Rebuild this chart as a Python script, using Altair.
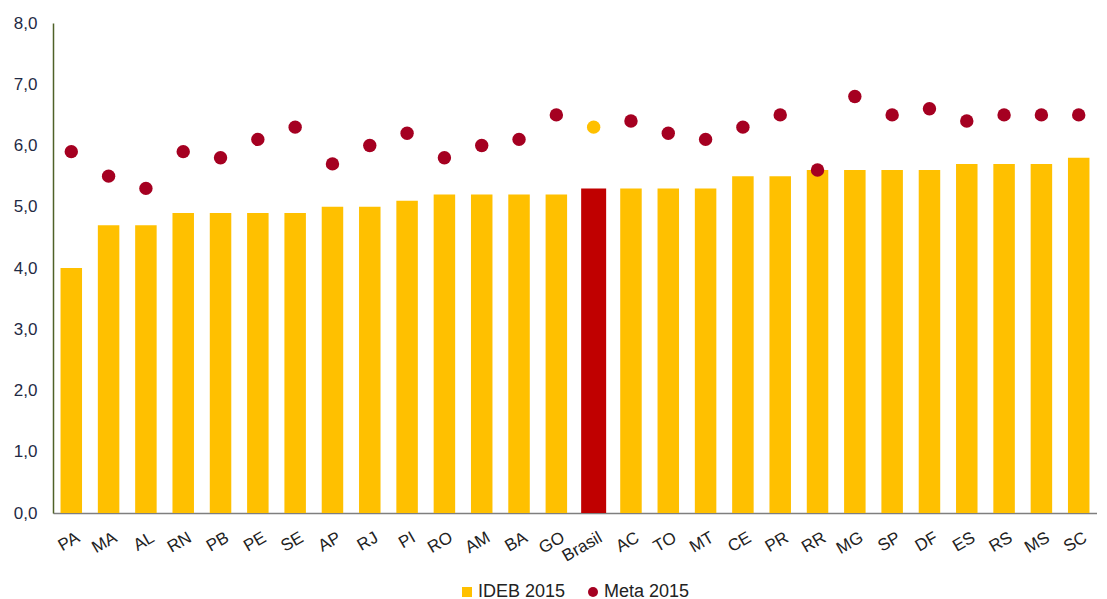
import altair as alt
import pandas as pd

estados = ["PA", "MA", "AL", "RN", "PB", "PE", "SE", "AP", "RJ", "PI", "RO", "AM", "BA", "GO",
           "Brasil", "AC", "TO", "MT", "CE", "PR", "RR", "MG", "SP", "DF", "ES", "RS", "MS", "SC"]
ideb_2015 = [4.0, 4.7, 4.7, 4.9, 4.9, 4.9, 4.9, 5.0, 5.0, 5.1, 5.2, 5.2, 5.2, 5.2,
             5.3, 5.3, 5.3, 5.3, 5.5, 5.5, 5.6, 5.6, 5.6, 5.6, 5.7, 5.7, 5.7, 5.8]
meta_2015 = [5.9, 5.5, 5.3, 5.9, 5.8, 6.1, 6.3, 5.7, 6.0, 6.2, 5.8, 6.0, 6.1, 6.5,
             6.3, 6.4, 6.2, 6.1, 6.3, 6.5, 5.6, 6.8, 6.5, 6.6, 6.4, 6.5, 6.5, 6.5]

series = ["IDEB 2015", "Meta 2015", "Brasil IDEB", "Brasil Meta"]
cores = ["#FFC000", "#A50021", "#C00000", "#FFC000"]
formas = ["square", "circle", "square", "circle"]

bars = pd.DataFrame({
    "estado": estados,
    "valor": ideb_2015,
    "serie": ["Brasil IDEB" if e == "Brasil" else "IDEB 2015" for e in estados],
})
pts = pd.DataFrame({
    "estado": estados,
    "valor": meta_2015,
    "serie": ["Brasil Meta" if e == "Brasil" else "Meta 2015" for e in estados],
})

FONT = "Liberation Sans"

x_enc = alt.X("estado:N", sort=estados, title=None,
              scale=alt.Scale(paddingInner=0.42, paddingOuter=0.2),
              axis=alt.Axis(labelAngle=330, labelFontSize=17, labelColor="#222222",
                            labelFont=FONT, ticks=False, domainColor="#7f7f7f",
                            domainWidth=1.5, labelPadding=16, labelAlign="right",
                            labelBaseline="top", labelOffset=3))
y_enc = alt.Y("valor:Q", title=None,
              scale=alt.Scale(domain=[0, 8], nice=False),
              axis=alt.Axis(values=[0, 1, 2, 3, 4, 5, 6, 7, 8], grid=False, ticks=False,
                            labelExpr="replace(format(datum.value, '.1f'), '.', ',')",
                            labelFontSize=17, labelColor="#1f2a44", labelFont=FONT,
                            labelPadding=16, domainColor="#4F6228", domainWidth=1.5))

leg = alt.Legend(values=["IDEB 2015", "Meta 2015"], title=None,
                 orient="none", legendX=405, legendY=560,
                 direction="horizontal",
                 labelFontSize=18, labelFont=FONT, labelColor="#222222",
                 symbolSize=100, symbolStrokeWidth=0, columnPadding=18,
                 labelOffset=2)
color_enc = alt.Color("serie:N", scale=alt.Scale(domain=series, range=cores), legend=leg)
shape_enc = alt.Shape("serie:N", scale=alt.Scale(domain=series, range=formas), legend=leg)

bar_layer = alt.Chart(bars).mark_bar().encode(
    x=x_enc, y=y_enc, color=color_enc, shape=shape_enc,
    size=alt.condition(alt.datum.estado == "Brasil", alt.value(25), alt.value(21.5)),
)
pt_layer = alt.Chart(pts).mark_point(filled=True, size=180, opacity=1).encode(
    x=x_enc, y=y_enc, color=color_enc, shape=shape_enc)

chart = alt.layer(bar_layer, pt_layer).properties(
    width=1044, height=490, background="white",
    padding={"left": 5, "top": 6, "right": 0, "bottom": 0},
).configure_view(stroke=None)

chart.save("out.html", embed_options={"renderer": "svg", "actions": False})
